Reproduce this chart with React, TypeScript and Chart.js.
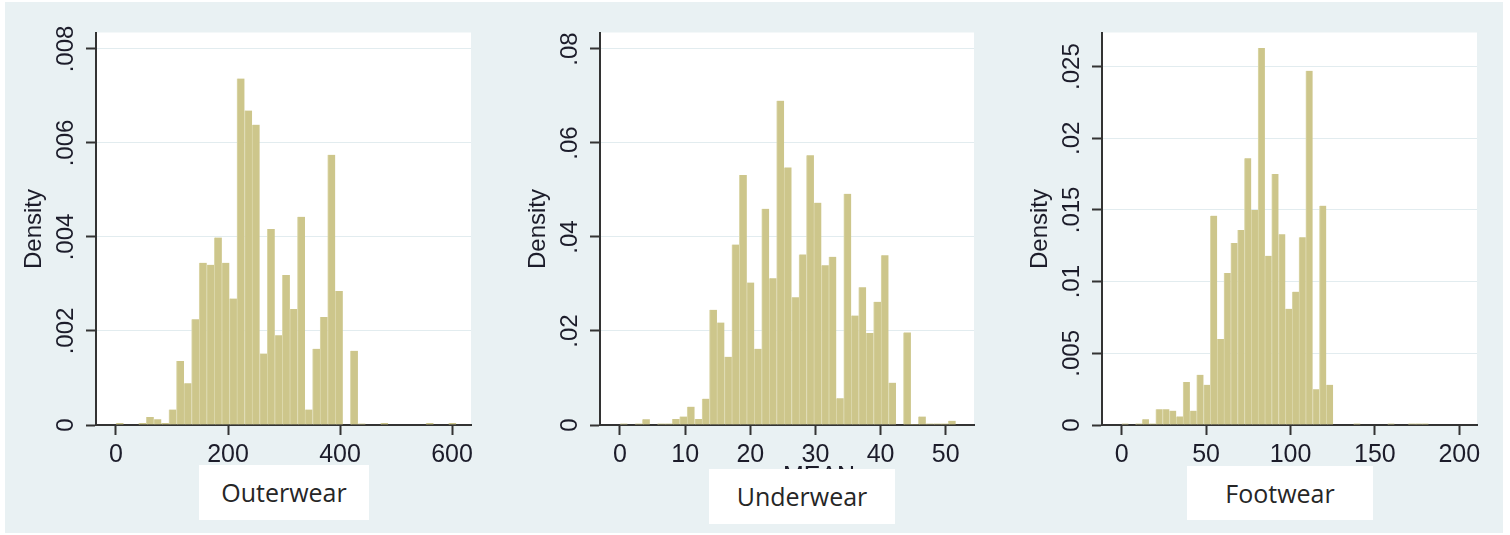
import React, { useEffect, useRef } from 'react';
import { Chart, registerables } from 'chart.js';

Chart.register(...registerables);

// ---------------- data ----------------
const Y_TITLE = 'Density';

const OUTERWEAR_BIN_START = 0;
const OUTERWEAR_BIN_WIDTH = 13.5;
const OUTERWEAR_DENSITY = [
  0.00004, 0, 0, 0.00004, 0.00017, 0.00012, 0.00004, 0.00033, 0.00136, 0.00089,
  0.00225, 0.00345, 0.00341, 0.00399, 0.00345, 0.00269, 0.00737, 0.00669, 0.00639, 0.00152,
  0.00417, 0.00191, 0.00319, 0.00247, 0.00443, 0.00033, 0.00162, 0.0023, 0.00575, 0.00285,
  0, 0.00158, 0.00003, 0, 0, 0.00004, 0, 0, 0, 0,
  0, 0.00004, 0, 0, 0.00004,
];
const OUTERWEAR_X_TICKS = [0, 200, 400, 600];
const OUTERWEAR_Y_TICKS = [0, 0.002, 0.004, 0.006, 0.008];
const OUTERWEAR_Y_LABELS = ['0', '.002', '.004', '.006', '.008'];

const UNDERWEAR_BIN_START = 0;
const UNDERWEAR_BIN_WIDTH = 1.145;
const UNDERWEAR_DENSITY = [
  0.0003, 0, 0.0003, 0.0012, 0, 0.0003, 0.0003, 0.0013, 0.0018, 0.0039,
  0.0013, 0.0056, 0.0245, 0.0218, 0.0145, 0.0384, 0.0532, 0.0303, 0.0162, 0.046,
  0.0312, 0.069, 0.0548, 0.0272, 0.0363, 0.0574, 0.0473, 0.034, 0.0358, 0.0057,
  0.0492, 0.0233, 0.0293, 0.0196, 0.0262, 0.0361, 0.009, 0, 0.0197, 0.0002,
  0.0018, 0.0003, 0.0003, 0.0003, 0.0009,
];
const UNDERWEAR_X_TICKS = [0, 10, 20, 30, 40, 50];
const UNDERWEAR_Y_TICKS = [0, 0.02, 0.04, 0.06, 0.08];
const UNDERWEAR_Y_LABELS = ['0', '.02', '.04', '.06', '.08'];
const UNDERWEAR_X_TITLE = 'MEAN';

const FOOTWEAR_BIN_START = 0;
const FOOTWEAR_BIN_WIDTH = 4.04;
const FOOTWEAR_DENSITY = [
  0.0001, 0, 0.0001, 0.0004, 0.0001, 0.0011, 0.0011, 0.001, 0.0006, 0.003,
  0.001, 0.0035, 0.0028, 0.0146, 0.006, 0.0106, 0.0127, 0.0136, 0.0186, 0.015,
  0.0263, 0.0118, 0.0175, 0.0133, 0.0081, 0.0093, 0.0131, 0.0247, 0.0025, 0.0153,
  0.0028, 0, 0, 0, 0.0001, 0, 0, 0, 0, 0.0001,
  0, 0, 0.0001, 0.0001, 0.0001,
];
const FOOTWEAR_X_TICKS = [0, 50, 100, 150, 200];
const FOOTWEAR_Y_TICKS = [0, 0.005, 0.01, 0.015, 0.02, 0.025];
const FOOTWEAR_Y_LABELS = ['0', '.005', '.01', '.015', '.02', '.025'];

const PANEL_NAMES = ['Outerwear', 'Underwear', 'Footwear'];

// ---------------- styles ----------------
const BG = '#e9f1f3';
const GRID = '#e2ecef';
const AXIS = '#333333';
const TEXT = '#1c1c2a';
const BAR = '#cdc68b';
const BAR_EDGE = '#dcd8ab';
const FONT = "'Liberation Sans', Arial, sans-serif";
const PLOT_TOP = 33;
const PLOT_BOTTOM = 425;
const H = 535;

const plotBgPlugin = {
  id: 'plotBg',
  beforeDraw(chart: any) {
    const { ctx, chartArea } = chart;
    ctx.save();
    ctx.fillStyle = '#ffffff';
    ctx.fillRect(chartArea.left, chartArea.top - 0.5, chartArea.right - chartArea.left, chartArea.bottom - chartArea.top + 0.5);
    ctx.restore();
  },
};

const yLabelPlugin = {
  id: 'yRotLabels',
  afterDraw(chart: any, _args: any, opts: any) {
    const { ctx, chartArea } = chart;
    const y = chart.scales.y;
    const labels: string[] = opts.labels || [];
    ctx.save();
    ctx.font = `24px ${FONT}`;
    ctx.fillStyle = TEXT;
    ctx.textAlign = 'center';
    ctx.textBaseline = 'alphabetic';
    y.ticks.forEach((t: any, i: number) => {
      const py = y.getPixelForValue(t.value);
      ctx.save();
      ctx.translate(chartArea.left - 23, py);
      ctx.rotate(-Math.PI / 2);
      ctx.fillText(labels[i] ?? String(t.value), 0, 0);
      ctx.restore();
    });
    ctx.restore();
  },
};

type PanelProps = {
  canvasLeft: number;
  canvasWidth: number;
  plotLeft: number;
  plotRight: number;
  xMin: number;
  xMax: number;
  yMax: number;
  binStart: number;
  binWidth: number;
  density: number[];
  xTicks: number[];
  yTicks: number[];
  yLabels: string[];
};

function HistPanel(p: PanelProps) {
  const ref = useRef<HTMLCanvasElement | null>(null);
  useEffect(() => {
    const canvas = ref.current;
    if (!canvas) return;
    const points = p.density.map((d, i) => ({ x: p.binStart + p.binWidth * (i + 0.5), y: d }));
    const chart = new Chart(canvas, {
      type: 'bar',
      data: {
        datasets: [
          {
            data: points as any,
            backgroundColor: BAR,
            borderColor: BAR_EDGE,
            borderWidth: { left: 1, right: 0, top: 0, bottom: 0 } as any,
            categoryPercentage: 1,
            barPercentage: 1,
          },
        ],
      },
      options: {
        responsive: false,
        maintainAspectRatio: false,
        animation: false,
        layout: {
          padding: {
            left: 0,
            top: PLOT_TOP,
            right: p.canvasLeft + p.canvasWidth - p.plotRight,
            bottom: 0,
          },
        },
        plugins: {
          legend: { display: false },
          tooltip: { enabled: false },
          yRotLabels: { labels: p.yLabels },
        } as any,
        scales: {
          x: {
            type: 'linear',
            min: p.xMin,
            max: p.xMax,
            offset: false,
            afterBuildTicks: (s: any) => {
              s.ticks = p.xTicks.map((v) => ({ value: v }));
            },
            afterFit: (s: any) => {
              s.height = H - PLOT_BOTTOM;
            },
            grid: {
              offset: false,
              drawOnChartArea: false,
              drawTicks: true,
              tickLength: 10,
              tickColor: AXIS,
              tickWidth: 2,
              color: AXIS,
            },
            border: { display: true, color: AXIS, width: 2 },
            ticks: {
              color: TEXT,
              font: { family: FONT, size: 25 },
              padding: 5,
              maxRotation: 0,
              minRotation: 0,
              autoSkip: false,
              callback: (v: any) => String(v),
            },
          },
          y: {
            type: 'linear',
            min: 0,
            max: p.yMax,
            afterBuildTicks: (s: any) => {
              s.ticks = p.yTicks.map((v) => ({ value: v }));
            },
            afterFit: (s: any) => {
              s.width = p.plotLeft - p.canvasLeft;
            },
            grid: {
              offset: false,
              drawOnChartArea: true,
              drawTicks: true,
              tickLength: 10,
              tickColor: AXIS,
              tickWidth: 2,
              lineWidth: 1,
              color: (c: any) => (c.tick && c.tick.value === 0 ? 'rgba(0,0,0,0)' : GRID),
            },
            border: { display: true, color: AXIS, width: 2 },
            ticks: { display: false },
            title: {
              display: true,
              text: Y_TITLE,
              color: TEXT,
              font: { family: FONT, size: 24 },
              padding: { top: 12.3, bottom: 0 },
            },
          },
        },
      } as any,
      plugins: [plotBgPlugin, yLabelPlugin],
    });
    return () => chart.destroy();
  }, []);
  return (
    <canvas
      ref={ref}
      width={p.canvasWidth}
      height={H}
      style={{ position: 'absolute', left: p.canvasLeft, top: 0, width: p.canvasWidth, height: H }}
    />
  );
}

function LabelBox(props: { left: number; top: number; width: number; height: number; text: string }) {
  return (
    <div
      style={{
        position: 'absolute',
        left: props.left,
        top: props.top,
        width: props.width,
        height: props.height,
        background: '#ffffff',
        textAlign: 'center',
        lineHeight: `${props.height}px`,
        fontFamily: "'Open Sans', 'Noto Sans', sans-serif",
        fontSize: 25,
        color: '#262626',
      }}
    >
      {props.text}
    </div>
  );
}

export default function App() {
  return (
    <div style={{ position: 'absolute', left: 0, top: 0, width: 1510, height: H, background: '#ffffff', overflow: 'hidden' }}>
      <div style={{ position: 'absolute', left: 5, top: 2, width: 1498, height: 531, background: BG }} />
      <HistPanel
        canvasLeft={8}
        canvasWidth={497}
        plotLeft={96}
        plotRight={471}
        xMin={-35.7}
        xMax={633.9}
        yMax={0.00834}
        binStart={OUTERWEAR_BIN_START}
        binWidth={OUTERWEAR_BIN_WIDTH}
        density={OUTERWEAR_DENSITY}
        xTicks={OUTERWEAR_X_TICKS}
        yTicks={OUTERWEAR_Y_TICKS}
        yLabels={OUTERWEAR_Y_LABELS}
      />
      <HistPanel
        canvasLeft={512}
        canvasWidth={496}
        plotLeft={600}
        plotRight={974}
        xMin={-3.07}
        xMax={54.34}
        yMax={0.0834}
        binStart={UNDERWEAR_BIN_START}
        binWidth={UNDERWEAR_BIN_WIDTH}
        density={UNDERWEAR_DENSITY}
        xTicks={UNDERWEAR_X_TICKS}
        yTicks={UNDERWEAR_Y_TICKS}
        yLabels={UNDERWEAR_Y_LABELS}
      />
      <HistPanel
        canvasLeft={1014}
        canvasWidth={496}
        plotLeft={1102}
        plotRight={1477}
        xMin={-11.67}
        xMax={210.5}
        yMax={0.02734}
        binStart={FOOTWEAR_BIN_START}
        binWidth={FOOTWEAR_BIN_WIDTH}
        density={FOOTWEAR_DENSITY}
        xTicks={FOOTWEAR_X_TICKS}
        yTicks={FOOTWEAR_Y_TICKS}
        yLabels={FOOTWEAR_Y_LABELS}
      />
      <div
        style={{
          position: 'absolute',
          left: 759,
          top: 463,
          width: 120,
          textAlign: 'center',
          fontFamily: FONT,
          fontSize: 25,
          lineHeight: '25px',
          color: TEXT,
        }}
      >
        {UNDERWEAR_X_TITLE}
      </div>
      <LabelBox left={199} top={465} width={170} height={55} text={PANEL_NAMES[0]} />
      <LabelBox left={709} top={469} width={186} height={55} text={PANEL_NAMES[1]} />
      <LabelBox left={1187} top={466} width={186} height={54} text={PANEL_NAMES[2]} />
    </div>
  );
}
